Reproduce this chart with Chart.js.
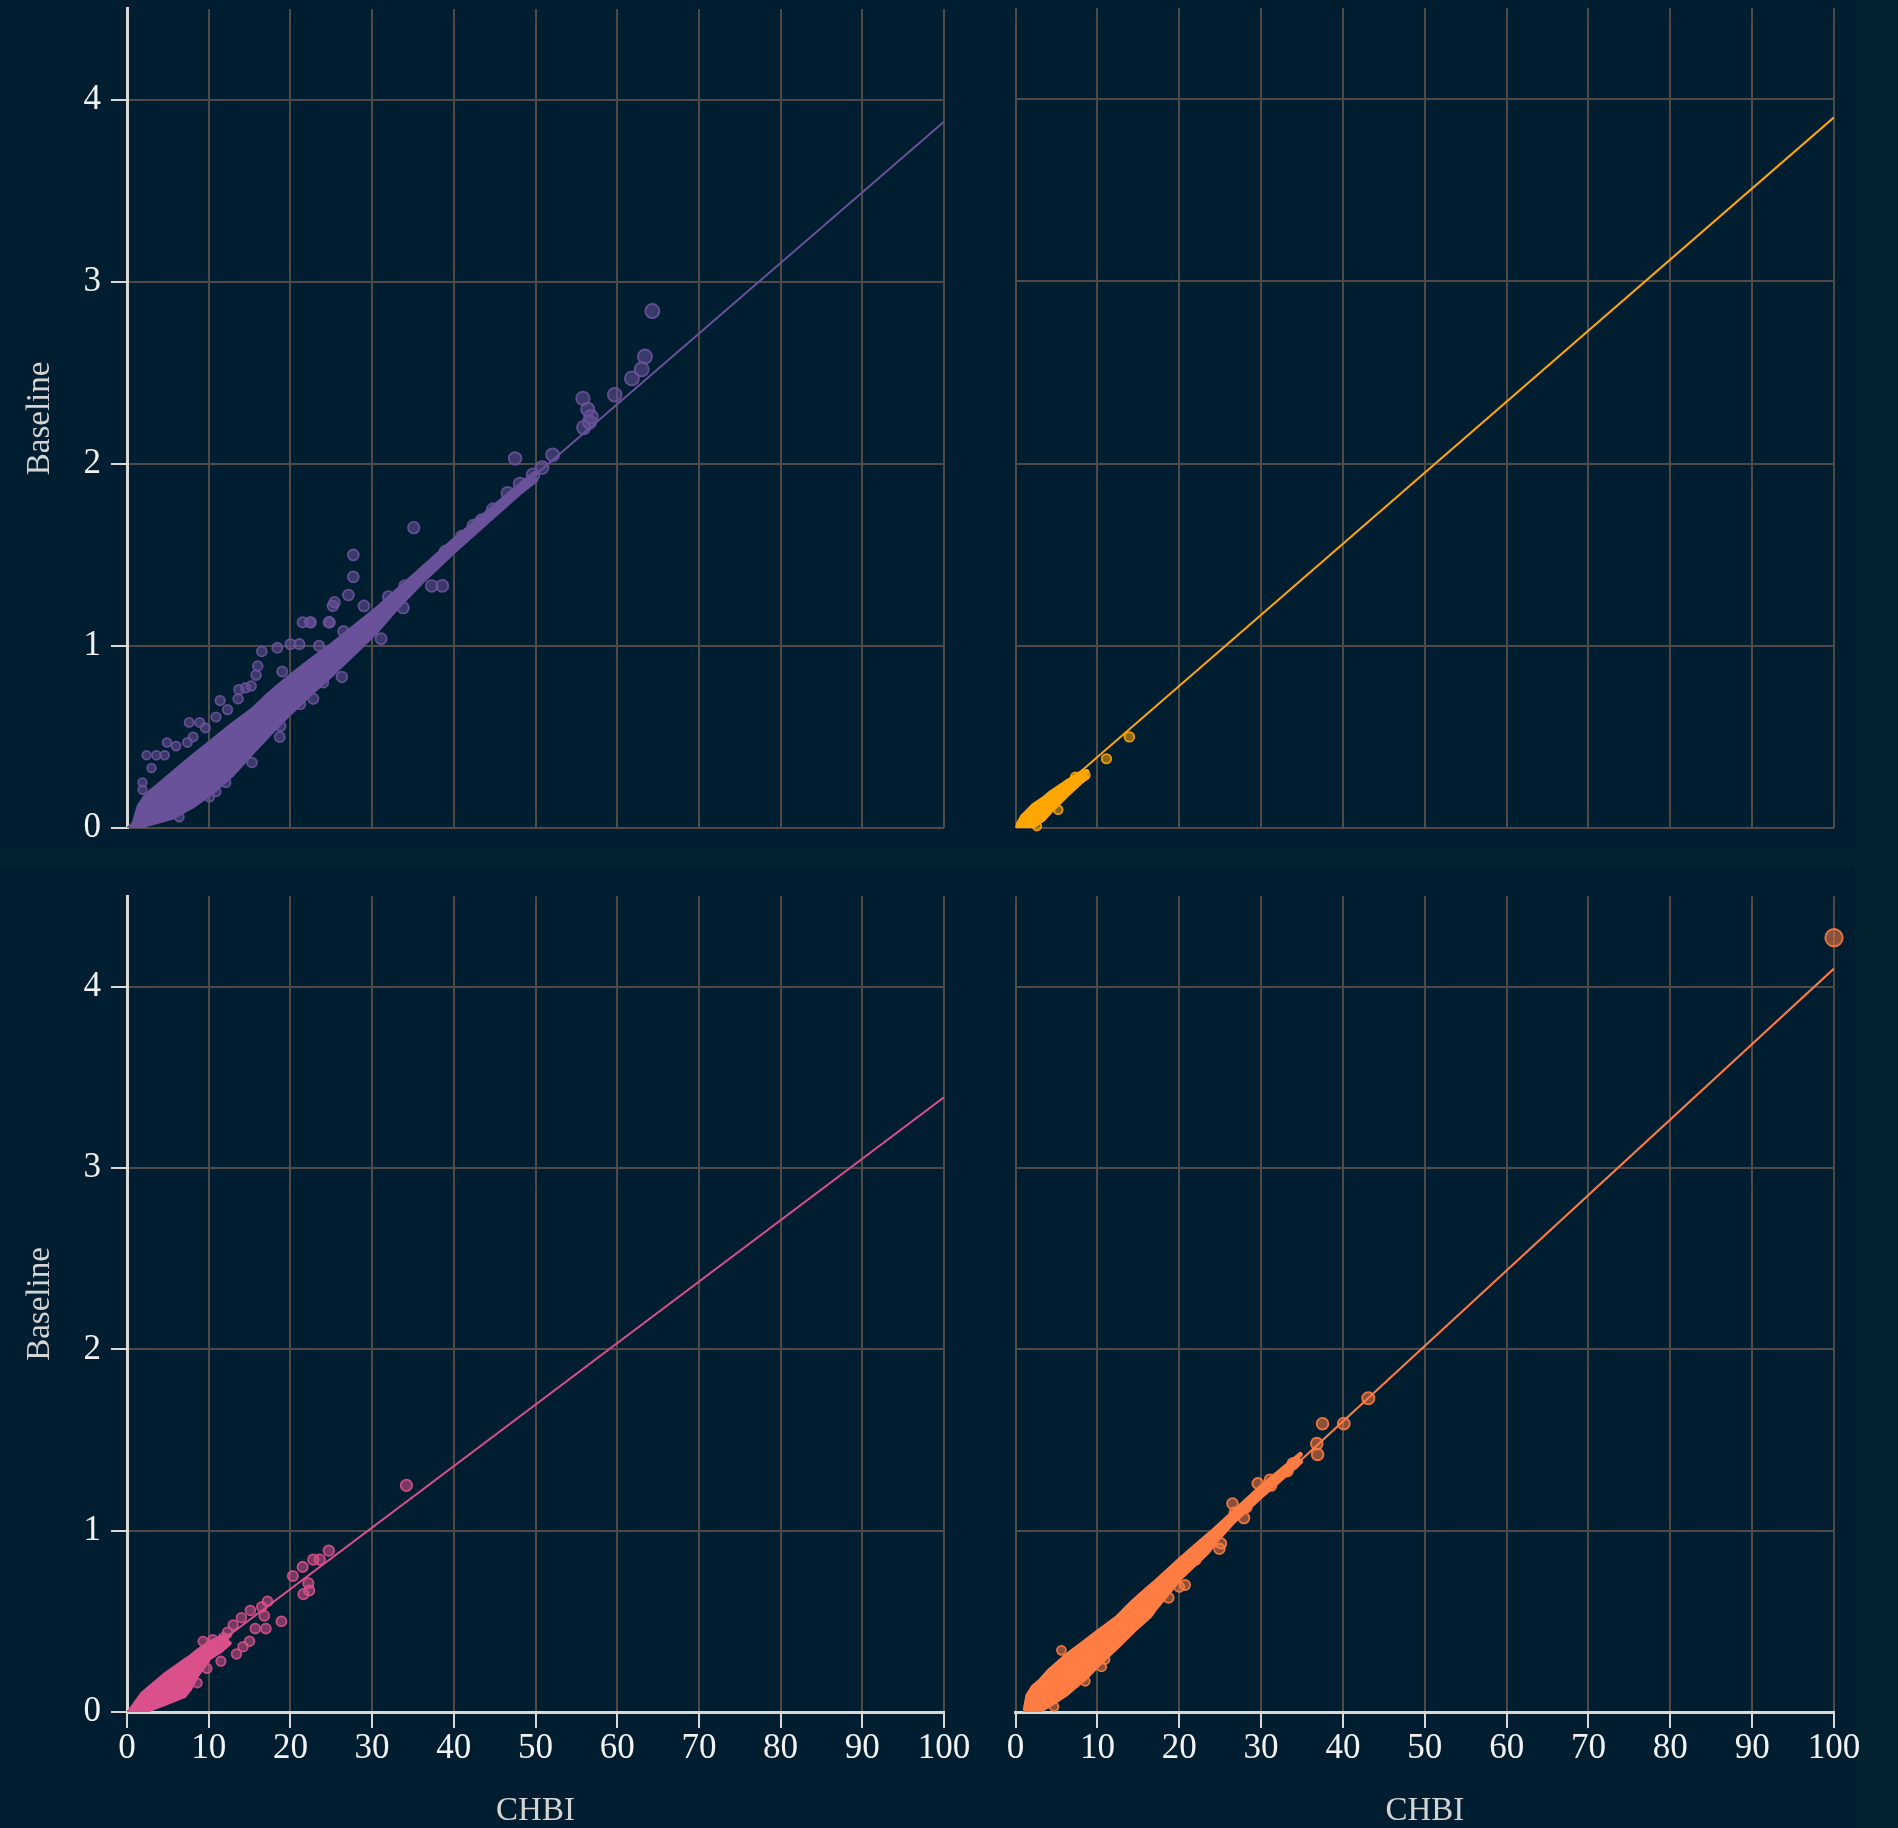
<!DOCTYPE html>
<html>
<head>
<meta charset="utf-8">
<script src="https://cdn.jsdelivr.net/npm/chart.js@4.4.1/dist/chart.umd.min.js"></script>
<style>
  html, body { margin: 0; padding: 0; background: #03222f; overflow: hidden; }
  body { width: 1898px; height: 1828px; position: relative; }
  .bg { position: absolute; background: #001e2f; }
  canvas { position: absolute; }
</style>
</head>
<body>
<div class="bg" style="left:0;top:0;width:1855px;height:848px"></div>
<div class="bg" style="left:0;top:868px;width:1855px;height:960px"></div>
<canvas id="tl" width="980" height="848" style="left:0;top:0"></canvas>
<canvas id="tr" width="918" height="848" style="left:980px;top:0"></canvas>
<canvas id="bl" width="980" height="980" style="left:0;top:848px"></canvas>
<canvas id="br" width="918" height="980" style="left:980px;top:848px"></canvas>
<script>
const chbiTicks = [0, 10, 20, 30, 40, 50, 60, 70, 80, 90, 100];
const baselineTicks = [0, 1, 2, 3, 4];

// top left - purple
const purpleBandX  = [0.7, 1.5, 2.4, 4, 5.6, 8, 10.5, 13, 15.4, 17.5, 19.9, 22.5, 25.2, 28, 30.5, 33, 36, 40, 44, 48, 50];
const purpleBandHi = [0.00, 0.12, 0.18, 0.24, 0.30, 0.39, 0.48, 0.57, 0.65, 0.74, 0.83, 0.92, 1.01, 1.11, 1.20, 1.30, 1.42, 1.58, 1.73, 1.88, 1.95];
const purpleBandLo = [0.00, 0.00, 0.02, 0.04, 0.06, 0.12, 0.20, 0.30, 0.42, 0.52, 0.63, 0.74, 0.85, 0.97, 1.08, 1.21, 1.35, 1.52, 1.68, 1.84, 1.91];
const purplePoints = [
  [64.3, 2.84], [63.4, 2.59], [63.0, 2.52], [61.8, 2.47], [59.7, 2.38], [55.8, 2.36], [56.4, 2.30],
  [56.8, 2.26], [55.9, 2.20], [56.6, 2.23], [52.1, 2.05], [47.5, 2.03], [50.8, 1.98], [35.1, 1.65],
  [27.7, 1.50], [27.7, 1.38], [27.1, 1.28], [25.4, 1.24], [25.2, 1.22], [24.7, 1.13], [22.4, 1.13],
  [21.5, 1.13], [22.5, 1.13], [24.8, 1.13], [37.3, 1.33], [38.6, 1.33], [33.8, 1.21], [31.1, 1.04],
  [46.6, 1.84], [48.1, 1.89], [49.7, 1.94], [43.4, 1.69], [44.8, 1.75], [42.4, 1.66], [39.0, 1.52],
  [41.0, 1.60], [29.0, 1.22], [32.0, 1.27], [34.0, 1.33], [23.5, 1.00], [19.0, 0.86], [26.5, 1.08],
  [16.5, 0.97], [18.4, 0.99], [20.0, 1.01], [21.1, 1.01], [16.0, 0.89], [15.8, 0.84], [15.2, 0.78],
  [14.5, 0.77], [13.7, 0.76], [13.6, 0.71], [11.4, 0.70], [12.3, 0.65], [10.9, 0.61], [9.6, 0.55],
  [7.6, 0.58], [8.9, 0.58], [8.1, 0.50], [7.4, 0.47], [4.9, 0.47], [6.0, 0.45], [2.4, 0.40],
  [3.6, 0.40], [4.6, 0.40], [3.0, 0.33], [1.9, 0.25], [1.9, 0.21],
  [18.8, 0.56], [18.7, 0.50], [15.3, 0.36], [12.1, 0.25], [10.9, 0.20], [10.1, 0.17], [26.3, 0.83],
  [22.8, 0.71], [21.2, 0.68], [6.4, 0.06], [14.0, 0.40], [24.0, 0.80]
];
const purpleFit = [[0, 0], [100, 3.88]];

// top right - yellow
const yellowBandX  = [0.2, 0.8, 2.1, 3.4, 4.2, 6.2, 7.9, 8.7];
const yellowBandHi = [0.01, 0.06, 0.12, 0.16, 0.19, 0.25, 0.30, 0.31];
const yellowBandLo = [0.00, 0.00, 0.01, 0.05, 0.09, 0.18, 0.25, 0.28];
const yellowPoints = [[5.2, 0.10], [2.6, 0.01], [8.5, 0.29], [11.1, 0.38], [13.9, 0.50], [7.3, 0.28], [6.5, 0.24]];
const yellowFit = [[0, 0], [100, 3.90]];

// bottom left - pink
const pinkBandX  = [0.3, 1.9, 4.8, 7.0, 7.7, 8.5, 10.1, 11.5, 12.5];
const pinkBandHi = [0.00, 0.10, 0.21, 0.28, 0.30, 0.33, 0.38, 0.41, 0.42];
const pinkBandLo = [0.00, 0.00, 0.05, 0.09, 0.13, 0.20, 0.30, 0.34, 0.38];
const pinkPoints = [
  [24.7, 0.89], [23.6, 0.84], [22.8, 0.84], [21.5, 0.80], [20.3, 0.75], [21.6, 0.65], [22.3, 0.67],
  [22.2, 0.71], [18.9, 0.50], [15.1, 0.56], [16.5, 0.58], [14.0, 0.52], [17.0, 0.46], [15.7, 0.46],
  [13.0, 0.48], [12.3, 0.44], [15.0, 0.39], [14.2, 0.36], [13.4, 0.32], [11.5, 0.28], [9.3, 0.39],
  [17.2, 0.61], [16.8, 0.53], [34.2, 1.25], [10.5, 0.40], [11.8, 0.41], [8.6, 0.16], [9.8, 0.24]
];
const pinkFit = [[0, 0], [100, 3.39]];

// bottom right - orange
const orangeBandX  = [1.2, 1.5, 2.2, 3.0, 4.2, 6.2, 8.3, 10.3, 12.4, 14.4, 16.4, 17.2, 20.1, 23.4, 24.2, 26.6, 30, 34.8];
const orangeBandHi = [0.02, 0.09, 0.14, 0.17, 0.23, 0.31, 0.38, 0.45, 0.52, 0.61, 0.69, 0.72, 0.84, 0.97, 1.00, 1.10, 1.24, 1.42];
const orangeBandLo = [0.00, 0.00, 0.00, 0.01, 0.04, 0.10, 0.18, 0.27, 0.36, 0.45, 0.53, 0.58, 0.74, 0.88, 0.93, 1.05, 1.19, 1.38];
const orangePoints = [
  [43.1, 1.73], [37.5, 1.59], [40.1, 1.59], [36.8, 1.48], [36.9, 1.42], [33.9, 1.37], [33.2, 1.33],
  [29.6, 1.26], [31.2, 1.25], [26.5, 1.15], [27.9, 1.07], [26.8, 1.10], [25.1, 0.93], [24.9, 0.90],
  [22.0, 0.84], [20.7, 0.70], [20.0, 0.69], [18.7, 0.63], [17.9, 0.66], [5.6, 0.34], [10.9, 0.29],
  [10.5, 0.25], [8.5, 0.17], [4.7, 0.03], [31.1, 1.28], [28.2, 1.13], [100, 4.27]
];
const orangeFit = [[1.5, 0], [100, 4.10]];

const GRID = '#4d4a47';
const AXIS = '#d8d8d8';
const serif = '"Liberation Serif", "DejaVu Serif", serif';

function rgba(hex, a) {
  const n = parseInt(hex.slice(1), 16);
  return 'rgba(' + (n >> 16 & 255) + ',' + (n >> 8 & 255) + ',' + (n & 255) + ',' + a + ')';
}
const toXY = pairs => pairs.map(p => ({ x: p[0], y: p[1] }));
const band = (xs, ys) => xs.map((x, i) => ({ x: x, y: ys[i] }));

function makePanel(id, color, s, showY, showX, padding) {
  const datasets = [
    {
      type: 'scatter', data: toXY(s.points), clip: false,
      pointRadius: ctx => 4.2 + (ctx.raw ? ctx.raw.x : 0) * 0.045,
      pointBackgroundColor: rgba(color, 0.55),
      pointBorderColor: rgba(color, 0.9),
      pointBorderWidth: 1.8
    },
    { type: 'line', data: toXY(s.fit), borderColor: color, borderWidth: 2, pointRadius: 0, fill: false },
    {
      type: 'line', data: band(s.bandX, s.lo), borderColor: color, borderWidth: 5, pointRadius: 0,
      fill: '+1', backgroundColor: color, borderJoinStyle: 'round', borderCapStyle: 'round'
    },
    {
      type: 'line', data: band(s.bandX, s.hi), borderColor: color, borderWidth: 5, pointRadius: 0,
      fill: false, borderJoinStyle: 'round', borderCapStyle: 'round'
    }
  ];

  new Chart(document.getElementById(id), {
    type: 'scatter',
    data: { datasets: datasets },
    options: {
      responsive: false,
      animation: false,
      devicePixelRatio: 1,
      events: [],
      layout: { padding: padding },
      plugins: { legend: { display: false }, tooltip: { enabled: false } },
      scales: {
        x: {
          type: 'linear', min: 0, max: 100,
          afterBuildTicks: a => { a.ticks = chbiTicks.map(v => ({ value: v })); },
          grid: { color: GRID, lineWidth: 2, drawTicks: showX, tickLength: 16, tickColor: AXIS, tickWidth: 2 },
          border: { display: showX, color: AXIS, width: 3 },
          ticks: { display: showX, color: '#f2f2f2', font: { family: serif, size: 35 }, padding: 0, maxRotation: 0, autoSkip: false },
          title: { display: showX, text: 'CHBI', color: '#d4d4d4', font: { family: serif, size: 33, lineHeight: 1 }, padding: 0 },
          afterFit: a => { a.height = showX ? 116 : 0; }
        },
        y: {
          type: 'linear', min: 0, max: 4.5,
          afterBuildTicks: a => { a.ticks = baselineTicks.map(v => ({ value: v })); },
          grid: { color: GRID, lineWidth: 2, drawTicks: showY, tickLength: 16, tickColor: AXIS, tickWidth: 2 },
          border: { display: showY, color: AXIS, width: 3 },
          ticks: { display: showY, color: '#f2f2f2', font: { family: serif, size: 35 }, padding: 10 },
          title: { display: showY, text: 'Baseline', color: '#d4d4d4', font: { family: serif, size: 33 }, padding: { top: 21 } },
          afterFit: a => { a.width = showY ? 127 : 0; a.paddingTop = 0; a.paddingBottom = 0; }
        }
      }
    }
  });
}

makePanel('tl', '#6a529b',
  { bandX: purpleBandX, hi: purpleBandHi, lo: purpleBandLo, points: purplePoints, fit: purpleFit },
  true, false, { left: 0, right: 36, top: 8, bottom: 20 });
makePanel('tr', '#ffa600',
  { bandX: yellowBandX, hi: yellowBandHi, lo: yellowBandLo, points: yellowPoints, fit: yellowFit },
  false, false, { left: 35.6, right: 64, top: 8, bottom: 20 });
makePanel('bl', '#d9508b',
  { bandX: pinkBandX, hi: pinkBandHi, lo: pinkBandLo, points: pinkPoints, fit: pinkFit },
  true, true, { left: 0, right: 36, top: 48, bottom: 0 });
makePanel('br', '#ff7c43',
  { bandX: orangeBandX, hi: orangeBandHi, lo: orangeBandLo, points: orangePoints, fit: orangeFit },
  false, true, { left: 35.6, right: 64, top: 48, bottom: 0 });
</script>
</body>
</html>
